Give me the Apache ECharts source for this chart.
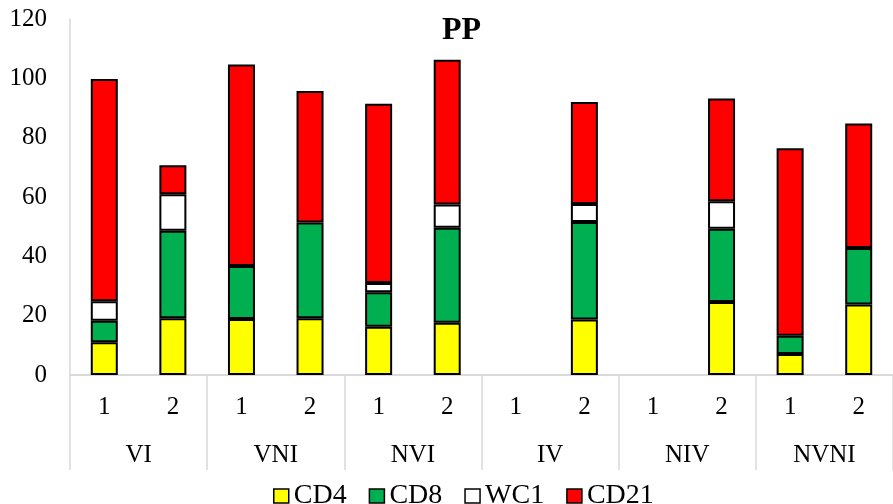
<!DOCTYPE html>
<html>
<head>
<meta charset="utf-8">
<script src="https://cdn.jsdelivr.net/npm/echarts@6/dist/echarts.min.js"></script>
<style>
  html, body { margin: 0; padding: 0; background: #fff; }
  #pp-chart { width: 893px; height: 504px; }
</style>
</head>
<body>
<div id="pp-chart"></div>
<script>
var subLabels = ['1', '2', '1', '2', '1', '2', '1', '2', '1', '2', '1', '2'];
var groups = ['VI', 'VNI', 'NVI', 'IV', 'NIV', 'NVNI'];
var yTicks = [0, 20, 40, 60, 80, 100, 120];

// '-' = no bar segment
var cd4  = [11.0, 19.1, 18.9, 19.1, 16.3, 17.6, '-', 18.7, '-', 24.6, 7.1, 23.8];
var cd8  = [7.3, 29.5, 17.8, 32.3, 11.6, 32.0, '-', 32.9, '-', 24.7, 6.1, 19.0];
var wc1  = [6.6, 12.3, '-', '-', 3.1, 7.9, '-', 6.0, '-', 9.3, '-', '-'];
var cd21 = [74.9, 9.8, 68.0, 44.3, 60.4, 48.8, '-', 34.4, '-', 34.6, 63.2, 42.0];

var font = 'Liberation Serif';
var grey = '#d9d9d9';

function bar(name, color, data) {
  return {
    name: name,
    type: 'bar',
    stack: 'pp',
    barWidth: 27,
    data: data,
    itemStyle: { color: color, borderColor: '#000', borderWidth: 2 }
  };
}

var chart = echarts.init(document.getElementById('pp-chart'));

var option = {
  animation: false,
  textStyle: { fontFamily: font, color: '#000' },
  title: {
    text: 'PP',
    left: 437,
    top: 10,
    textStyle: { fontFamily: font, fontSize: 32, fontWeight: 'bold', color: '#000' }
  },
  legend: {
    left: 268,
    top: 477,
    itemWidth: 15,
    itemHeight: 14,
    itemGap: 22,
    icon: 'rect',
    itemStyle: { borderColor: '#000', borderWidth: 1.5 },
    textStyle: { fontFamily: font, fontSize: 28, color: '#000' },
    data: ['CD4', 'CD8', 'WC1', 'CD21']
  },
  grid: { left: 70, right: -7, top: 19, bottom: 129 },
  xAxis: [
    {
      type: 'category',
      data: subLabels,
      axisLine: { lineStyle: { color: grey, width: 1.5 } },
      axisTick: { show: false },
      axisLabel: { fontFamily: font, fontSize: 25, color: '#000', margin: 20, interval: 0 }
    },
    {
      type: 'category',
      position: 'bottom',
      data: groups,
      axisLine: { lineStyle: { color: grey, width: 1.5 } },
      axisTick: { show: true, length: 95, interval: 0, lineStyle: { color: grey, width: 1.5 } },
      axisLabel: { fontFamily: font, fontSize: 25, color: '#000', margin: 68, interval: 0 }
    }
  ],
  yAxis: {
    type: 'value',
    min: yTicks[0],
    max: yTicks[yTicks.length - 1],
    interval: yTicks[1] - yTicks[0],
    axisLine: { show: true, lineStyle: { color: grey, width: 1.5 } },
    axisTick: { show: false },
    splitLine: { show: false },
    axisLabel: { fontFamily: font, fontSize: 25, color: '#000', margin: 23 }
  },
  series: [
    bar('CD4', '#ffff00', cd4),
    bar('CD8', '#00b050', cd8),
    bar('WC1', '#ffffff', wc1),
    bar('CD21', '#ff0000', cd21)
  ]
};

chart.setOption(option);
</script>
</body>
</html>
